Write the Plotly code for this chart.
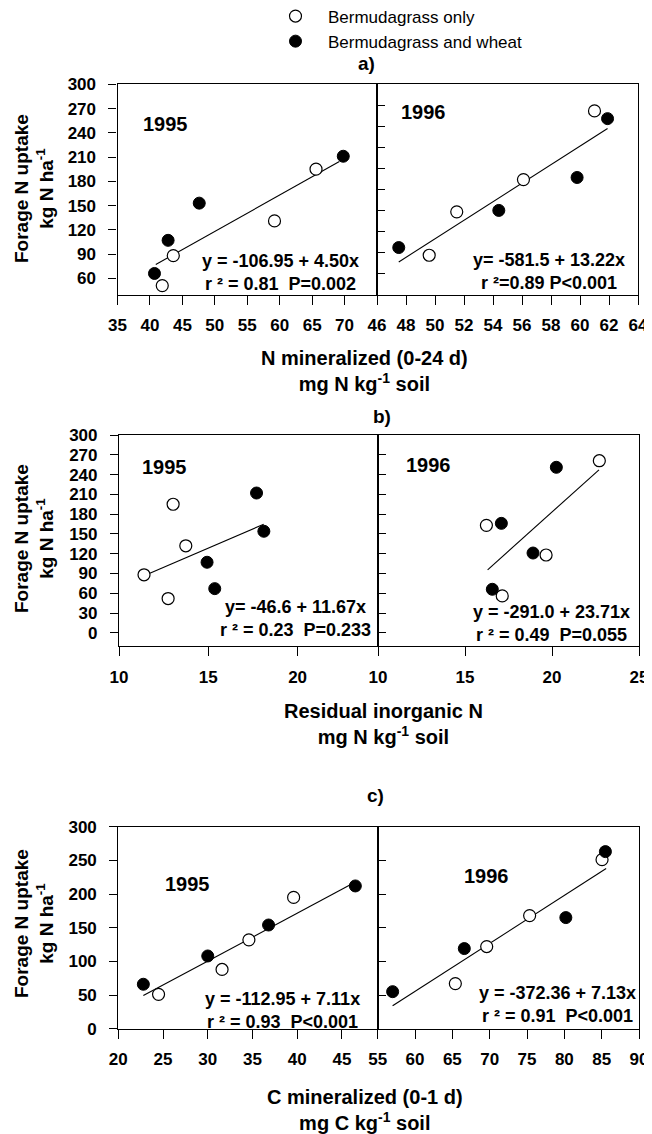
import plotly.graph_objects as go

# page is 652x1134; the HTML body has an 8px margin, so the figure is 644x1126
PAGE_W, PAGE_H = 652, 1134
OFF = 8
W, H = PAGE_W - OFF, PAGE_H - OFF

# ---------------- data ----------------
# Panel a: N mineralized (0-24 d)
a95_open_x = [41.9, 43.6, 59.2, 65.6]
a95_open_y = [51, 88, 131, 195]
a95_fill_x = [40.7, 42.8, 47.6, 69.8]
a95_fill_y = [66, 107, 153, 211]
a96_open_x = [49.6, 51.5, 56.1, 61.0]
a96_open_y = [56, 118, 164, 262]
a96_fill_x = [47.5, 54.4, 59.8, 61.9]
a96_fill_y = [67, 120, 167, 251]

# Panel b: residual inorganic N
b95_open_x = [11.4, 12.75, 13.03, 13.74]
b95_open_y = [88, 52, 195, 132]
b95_fill_x = [14.93, 15.36, 17.7, 18.11]
b95_fill_y = [107, 67, 212, 154]
b96_open_x = [16.23, 17.14, 19.66, 22.72]
b96_open_y = [163, 56, 118, 261]
b96_fill_x = [17.09, 16.57, 18.91, 20.25]
b96_fill_y = [166, 66, 121, 251]

# Panel c: C mineralized (0-1 d)
c95_open_x = [24.5, 31.6, 34.6, 39.6]
c95_open_y = [51, 88, 132, 195]
c95_fill_x = [22.8, 30.0, 36.8, 46.5]
c95_fill_y = [66, 108, 154, 212]
c96_open_x = [65.4, 69.6, 75.35, 85.05]
c96_open_y = [67, 122, 168, 251]
c96_fill_x = [57.0, 66.6, 80.2, 85.5]
c96_fill_y = [55, 119, 165, 263]

# regression equations (intercept, slope) and fitted x-span
fit_intercepts = [-106.95, -581.5, -46.6, -291.0, -112.95, -372.36]
fit_slopes = [4.50, 13.22, 11.67, 23.71, 7.11, 7.13]
fit_x_start = [40.9, 47.5, 11.4, 16.3, 22.8, 57.0]
fit_x_end = [69.2, 61.9, 18.1, 22.7, 46.3, 85.6]

eq_line1 = ["y = -106.95 + 4.50x", "y= -581.5 + 13.22x",
            "y= -46.6 + 11.67x", "y = -291.0 + 23.71x",
            "y = -112.95 + 7.11x", "y = -372.36 + 7.13x"]
eq_line2 = ["r ² = 0.81\u00a0\u00a0P=0.002", "r ²=0.89 P&lt;0.001",
            "r ² = 0.23\u00a0\u00a0P=0.233", "r ² = 0.49\u00a0\u00a0P=0.055",
            "r ² = 0.93\u00a0\u00a0P&lt;0.001", "r ² = 0.91\u00a0\u00a0P&lt;0.001"]
year_labels = ["1995", "1996", "1995", "1996", "1995", "1996"]
panel_labels = ["a)", "b)", "c)"]
x_titles = ["N mineralized (0-24 d)<br>mg N kg<sup>-1</sup> soil",
            "Residual inorganic N<br>mg N kg<sup>-1</sup> soil",
            "C mineralized (0-1 d)<br>mg C kg<sup>-1</sup> soil"]
y_title = "Forage N uptake<br>kg N ha<sup>-1</sup>"
series_names = ["Bermudagrass only", "Bermudagrass and wheat"]

# ---------------- layout helpers (page pixels -> paper) ----------------
def px(x):
    return (x - OFF) / W

def py(y):
    return 1 - (y - OFF) / H

FONT = "Liberation Sans, Arial, sans-serif"

# panel frames in page pixels: (left, divider, right, top, bottom)
frames = [
    (117.5, 377.0, 638.0, 84.3, 294.5),
    (119.0, 378.0, 639.0, 435.0, 646.0),
    (118.3, 377.7, 639.0, 826.7, 1028.7),
]

x_ranges = [[35, 75], [46, 64], [10, 24.5], [10, 25], [20, 49], [55, 90]]
x_ticks = [list(range(35, 71, 5)), list(range(46, 65, 2)), [10, 15, 20],
           [10, 15, 20, 25], list(range(20, 46, 5)), list(range(55, 91, 5))]
y_ranges = [[40, 300], [0, 300], [-20, 300], [-20, 300], [0, 300], [0, 300]]
y_ticks = [list(range(60, 301, 30)), list(range(30, 271, 30)),
           list(range(0, 301, 30)), list(range(0, 271, 30)),
           list(range(0, 301, 50)), list(range(50, 251, 50))]

panels = [
    (a95_open_x, a95_open_y, a95_fill_x, a95_fill_y),
    (a96_open_x, a96_open_y, a96_fill_x, a96_fill_y),
    (b95_open_x, b95_open_y, b95_fill_x, b95_fill_y),
    (b96_open_x, b96_open_y, b96_fill_x, b96_fill_y),
    (c95_open_x, c95_open_y, c95_fill_x, c95_fill_y),
    (c96_open_x, c96_open_y, c96_fill_x, c96_fill_y),
]

fig = go.Figure()
layout_axes = {}

for i, (ox, oy, fx, fy) in enumerate(panels):
    row = i // 2
    side = i % 2
    L, M, R, T, B = frames[row]
    xd = [px(L), px(M)] if side == 0 else [px(M), px(R)]
    yd = [py(B), py(T)]
    xname = "xaxis" if i == 0 else f"xaxis{i+1}"
    yname = "yaxis" if i == 0 else f"yaxis{i+1}"
    xref = "x" if i == 0 else f"x{i+1}"
    yref = "y" if i == 0 else f"y{i+1}"

    layout_axes[xname] = dict(
        domain=xd, range=x_ranges[i], anchor=yref,
        tickmode="array", tickvals=x_ticks[i],
        showline=True, mirror=True, linecolor="black", linewidth=1.2,
        ticks="outside", ticklen=9, tickwidth=1.2, tickcolor="black",
        showgrid=False, zeroline=False, ticklabelstandoff=6,
        tickfont=dict(family=FONT, size=17, color="black", weight="bold"),
    )
    layout_axes[yname] = dict(
        domain=yd, range=y_ranges[i], anchor=xref,
        tickmode="array", tickvals=y_ticks[i],
        showline=True, mirror=True, linecolor="black", linewidth=1.2,
        ticks="outside" if side == 0 else "inside", ticklen=8,
        tickwidth=1.2, tickcolor="black",
        showticklabels=(side == 0),
        showgrid=False, zeroline=False, ticklabelstandoff=9,
        tickfont=dict(family=FONT, size=17, color="black", weight="bold"),
    )

    # regression line
    xs = [fit_x_start[i], fit_x_end[i]]
    ys = [fit_intercepts[i] + fit_slopes[i] * v for v in xs]
    fig.add_trace(go.Scatter(x=xs, y=ys, mode="lines",
                             line=dict(color="black", width=1.1),
                             xaxis=xref, yaxis=yref, showlegend=False,
                             hoverinfo="skip"))
    fig.add_trace(go.Scatter(x=ox, y=oy, mode="markers", name=series_names[0],
                             legendgroup="open", showlegend=(i == 0),
                             marker=dict(symbol="circle", size=12, color="white",
                                         line=dict(color="black", width=1.2)),
                             xaxis=xref, yaxis=yref))
    fig.add_trace(go.Scatter(x=fx, y=fy, mode="markers", name=series_names[1],
                             legendgroup="fill", showlegend=(i == 0),
                             marker=dict(symbol="circle", size=12, color="black",
                                         line=dict(color="black", width=1)),
                             xaxis=xref, yaxis=yref))

annotations = []

def add_text(text, x, y, size, bold=True, angle=0):
    annotations.append(dict(
        text=text, x=px(x), y=py(y), xref="paper", yref="paper",
        xanchor="center", yanchor="middle", showarrow=False, textangle=angle,
        font=dict(family=FONT, size=size, color="black",
                  weight="bold" if bold else "normal")))

# year labels
year_pos = [(165.7, 124), (423.3, 112.3), (164, 467), (428.3, 465.3),
            (187, 883.7), (486.7, 875.5)]
for t, (x, y) in zip(year_labels, year_pos):
    add_text(t, x, y, 20)

# equations (two lines each)
eq_pos = [(280, 273), (549, 271), (295, 618), (551, 624), (282, 1010), (557, 1004)]
for t1, t2, (x, y) in zip(eq_line1, eq_line2, eq_pos):
    add_text(t1 + "<br>" + t2, x, y, 18)

# panel letters
letter_pos = [(366, 63), (381.7, 416.7), (375, 795)]
for t, (x, y) in zip(panel_labels, letter_pos):
    add_text(t, x, y, 19)

# x-axis titles
xt_pos = [(364, 371), (383, 724), (365, 1110)]
for t, (x, y) in zip(x_titles, xt_pos):
    add_text(t, x, y, 20)

# y-axis titles
yt_pos = [(34, 189), (34, 539), (34, 924)]
for (x, y) in yt_pos:
    add_text(y_title, x, y, 19, angle=-90)

fig.update_layout(
    width=W, height=H, autosize=False,
    margin=dict(l=0, r=0, t=0, b=0, autoexpand=False),
    paper_bgcolor="white", plot_bgcolor="white",
    showlegend=True,
    legend=dict(x=px(263), y=py(-1.5), xanchor="left", yanchor="top",
                bgcolor="rgba(0,0,0,0)", borderwidth=0,
                font=dict(family=FONT, size=17, color="black"),
                tracegroupgap=0, itemwidth=55),
    annotations=annotations,
    **layout_axes,
)

fig.write_html("out.html")
